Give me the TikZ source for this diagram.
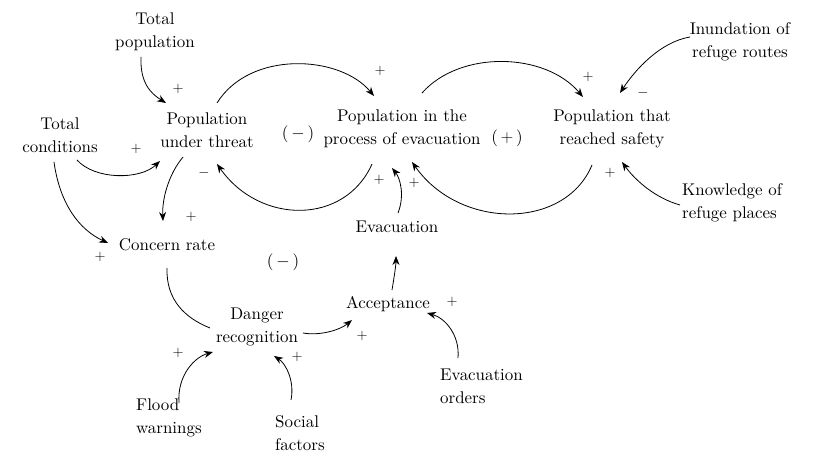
\documentclass[tikz,border=0pt]{standalone}
\usepackage{fontspec}
\newfontfamily\lmten{lmroman10-regular.otf}
\usetikzlibrary{arrows.meta}
\begin{document}
\begin{tikzpicture}[x=1bp,y=-1bp,
  lbl/.style={inner sep=0pt,align=center,font={\lmten\fontsize{17}{23}\selectfont}},
  lbll/.style={inner sep=0pt,align=left,anchor=west,font={\lmten\fontsize{17}{23}\selectfont}},
  sgn/.style={inner sep=0pt,font=\fontsize{15}{18}\selectfont},
  arr/.style={-{Stealth[length=9bp,width=7bp]},line width=0.8bp},
  plain/.style={line width=0.8bp}]
\useasboundingbox (0,0) rectangle (813,464);
% nodes
\node[lbl] (tp) at (155,32) {Total\\population};
\node[lbl] (tc) at (60,135) {Total\\conditions};
\node[lbl] (put) at (207,130) {Population\\under threat};
\node[lbl] (pev) at (402,129) {Population in the\\process of evacuation};
\node[lbl] (psafe) at (612,129) {Population that\\reached safety};
\node[lbl] (inun) at (740,42) {Inundation of\\refuge routes};
\node[lbll] (know) at (682,203) {Knowledge of\\refuge places};
\node[lbl] (conc) at (167,245) {Concern rate};
\node[lbl] (evac) at (397,227) {Evacuation};
\node[lbl] (acc) at (388,304) {Acceptance};
\node[lbl] (dr) at (257,327) {Danger\\recognition};
\node[lbll] (flood) at (136,418) {Flood\\warnings};
\node[lbll] (social) at (275,433) {Social\\factors};
\node[lbll] (orders) at (440,386) {Evacuation\\orders};
% loop labels
\node[lbl] (l1) at (298,134) {(\,$-$\,)};
\node[lbl] (l2) at (507,138) {(\,$+$\,)};
\node[lbl] (l3) at (283,262) {(\,$-$\,)};
% signs
\node[sgn] (s1) at (178,89) {$+$};
\node[sgn] (s2) at (136,149) {$+$};
\node[sgn] (s3) at (100,257) {$+$};
\node[sgn] (s4) at (191,217) {$+$};
\node[sgn] (s5) at (380,71) {$+$};
\node[sgn] (s6) at (204,173) {$-$};
\node[sgn] (s7) at (588,77) {$+$};
\node[sgn] (s8) at (414,183) {$+$};
\node[sgn] (s9) at (379,180) {$+$};
\node[sgn] (s10) at (643,93) {$-$};
\node[sgn] (s11) at (610,173) {$+$};
\node[sgn] (s12) at (362,336) {$+$};
\node[sgn] (s13) at (452,302) {$+$};
\node[sgn] (s14) at (178,353) {$+$};
\node[sgn] (s15) at (297,357) {$+$};
% connectors
\draw[arr] ([shift={(-14,25)}]tp.center) .. controls (140,82) and (150,93) .. ([shift={(-41,-27)}]put.center);
\draw[arr] ([shift={(17,25)}]tc.center) .. controls (95,180) and (140,180) .. ([shift={(-47,31)}]put.center);
\draw[arr] ([shift={(-6,27)}]tc.center) .. controls (60,205) and (80,230) .. ([shift={(-59,-2)}]conc.center);
\draw[arr] ([shift={(-24,27)}]put.center) .. controls (168,175) and (162,200) .. ([shift={(-4,-24)}]conc.center);
\draw[arr] ([shift={(10,-27)}]put.center) .. controls (250,50) and (340,55) .. ([shift={(-28,-33)}]pev.center);
\draw[arr] ([shift={(-30,35)}]pev.center) .. controls (345,225) and (260,225) .. ([shift={(10,34)}]put.center);
\draw[arr] ([shift={(20,-36)}]pev.center) .. controls (460,50) and (545,52) .. ([shift={(-29,-32)}]psafe.center);
\draw[arr] ([shift={(-20,36)}]psafe.center) .. controls (565,230) and (460,230) .. ([shift={(10,33)}]pev.center);
\draw[arr] ([shift={(1,-14)}]evac.center) .. controls (405,195) and (400,178) .. ([shift={(-10,39)}]pev.center);
\draw[arr] ([shift={(-50,-5)}]inun.center) .. controls (660,42) and (635,70) .. ([shift={(8,-36)}]psafe.center);
\draw[arr] ([shift={(-2,2)}]know.west) .. controls (655,198) and (635,180) .. ([shift={(10,33)}]psafe.center);
\draw[plain] ([shift={(0,23)}]conc.center) .. controls (166,300) and (185,318) .. ([shift={(-47,1)}]dr.center);
\draw[arr] ([shift={(46,6)}]dr.center) .. controls (320,336) and (340,330) .. ([shift={(-36,16)}]acc.center);
\draw[arr] ([shift={(4,-14)}]acc.center) .. controls (394,278) and (396,265) .. ([shift={(-1,29)}]evac.center);
\draw[arr] ([shift={(18,-28)}]orders.west) .. controls (460,335) and (445,318) .. ([shift={(39,9)}]acc.center);
\draw[arr] ([shift={(43,-15)}]flood.west) .. controls (177,375) and (195,357) .. ([shift={(-44,25)}]dr.center);
\draw[arr] ([shift={(16,-33)}]social.west) .. controls (295,380) and (285,363) .. ([shift={(17,29)}]dr.center);
\end{tikzpicture}
\end{document}
